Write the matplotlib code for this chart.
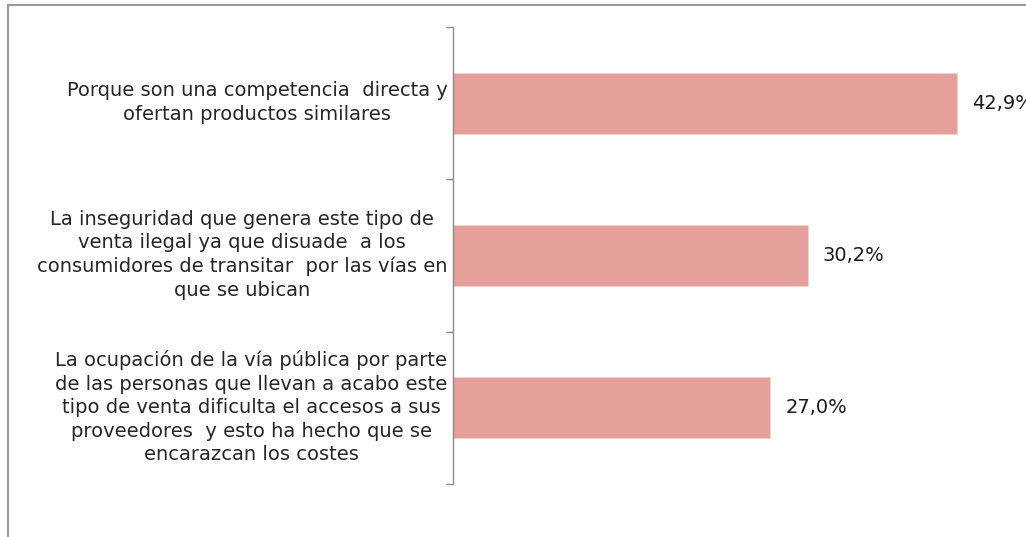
import matplotlib
matplotlib.use("Agg")
import matplotlib.pyplot as plt
from matplotlib.patches import Rectangle
from matplotlib.transforms import ScaledTranslation

categories = [
    "Porque son una competencia  directa y\nofertan productos similares",
    "La inseguridad que genera este tipo de\nventa ilegal ya que disuade  a los\nconsumidores de transitar  por las vías en\nque se ubican",
    "La ocupación de la vía pública por parte\nde las personas que llevan a acabo este\ntipo de venta dificulta el accesos a sus\nproveedores  y esto ha hecho que se\nencarazcan los costes",
]
values = [42.9, 30.2, 27.0]
value_labels = ["42,9%", "30,2%", "27,0%"]

W, H = 1026, 537
fig = plt.figure(figsize=(W / 100, H / 100), dpi=100)
fig.patch.set_facecolor("white")

ax = fig.add_axes([453 / W, 53 / H, (W - 453) / W, 457 / H])
pos = list(range(len(categories)))
ax.barh(pos, values, height=0.4, color="#E5A09C", edgecolor="#F2D2D0", linewidth=0.6)
ax.set_xlim(0, (W - 453) / 11.75)
ax.set_ylim(len(categories) - 0.5, -0.5)

ax.set_yticks(pos)
ax.set_yticklabels(categories, fontsize=14, color="#262626",
                   multialignment="center", linespacing=1.3, family="DejaVu Sans")
ax.tick_params(axis="y", which="major", length=0, pad=4)
ax.set_yticks([-0.5, 0.5, 1.5, 2.5], minor=True)
ax.tick_params(axis="y", which="minor", length=5, width=1, color="#8c8c8c")
ax.set_xticks([])
shift = ScaledTranslation(0, 5 / 100, fig.dpi_scale_trans)
for lbl in ax.get_yticklabels():
    lbl.set_transform(lbl.get_transform() + shift)

for s in ["top", "right", "bottom"]:
    ax.spines[s].set_visible(False)
ax.spines["left"].set_color("#8c8c8c")
ax.spines["left"].set_linewidth(1)

for p, v, lab in zip(pos, values, value_labels):
    ax.text(v + 15 / 11.75, p, lab, va="center", ha="left", fontsize=14,
            color="#1a1a1a", clip_on=False)

fig.add_artist(Rectangle((8 / W, -0.5), 2, 532 / H + 0.5, transform=fig.transFigure,
                         fill=False, edgecolor="#9a9a9a", linewidth=1.5))

fig.savefig("out.png", dpi=100)
